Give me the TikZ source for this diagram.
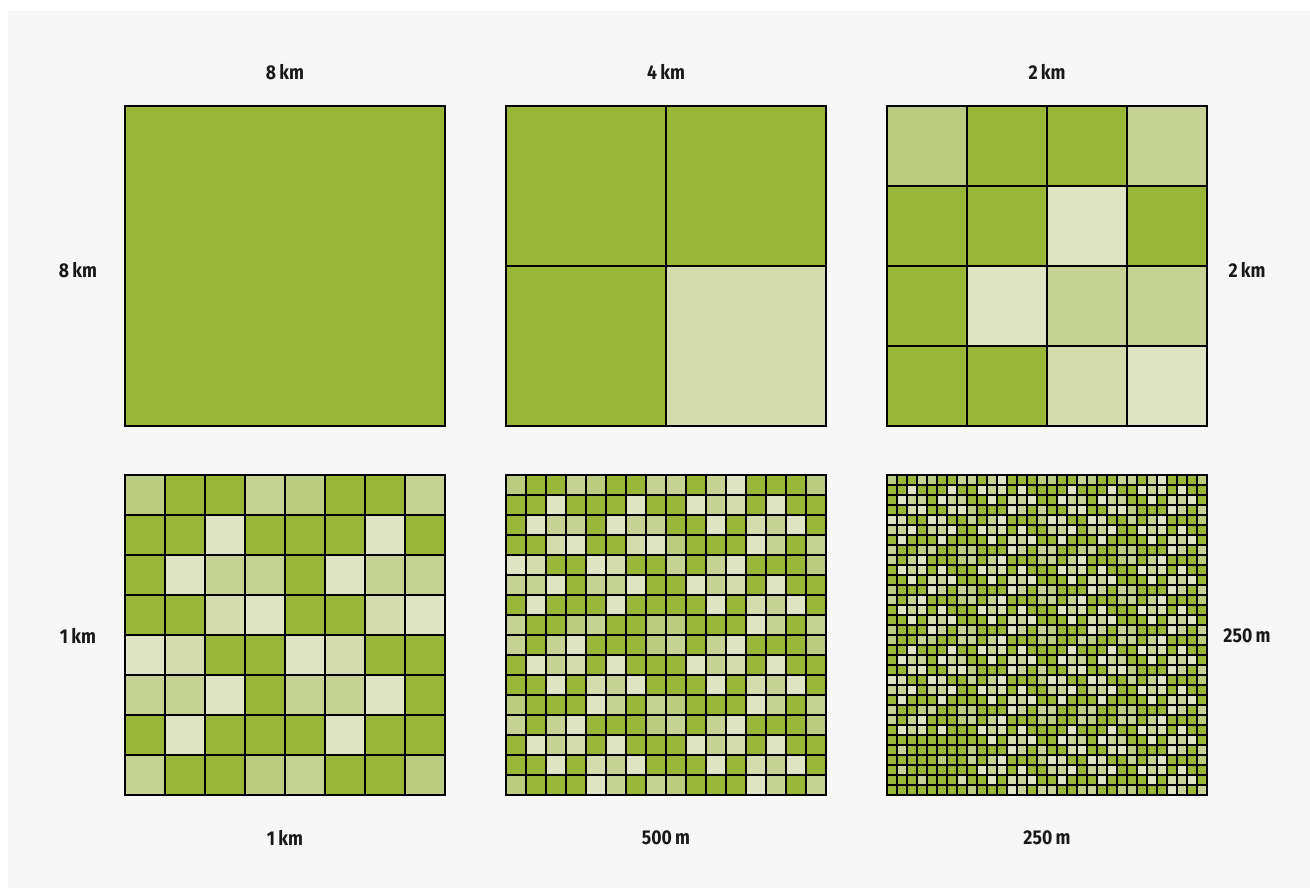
\documentclass[tikz,border=0pt]{standalone}
\usepackage{fontspec}
\setmainfont{Fira Sans}[FakeStretch=0.88]
\definecolor{c0}{HTML}{9AB638}
\definecolor{c1}{HTML}{BBCB80}
\definecolor{c2}{HTML}{C6D294}
\definecolor{c3}{HTML}{D4DCAF}
\definecolor{c4}{HTML}{DFE4C4}
\definecolor{bggray}{HTML}{F7F7F7}
\newcount\gcol
\makeatletter
\newcommand\drawrow[5]{%
  \gcol=0
  \@tfor\gd:=#5\do{%
    \fill[c\gd] ({#1+\the\gcol*#3},{#2+#4*#3}) rectangle ++(#3,#3);%
    \advance\gcol by 1 }}
\makeatother
\newcommand\drawgrid[5]{%
  \foreach \rw [count=\ri from 0] in {#5} {%
    \edef\tmp{\noexpand\drawrow{#1}{#2}{#3}{\ri}{\rw}}\tmp}
  \foreach \i in {0,...,#4} {%
    \draw[gl] ({#1+\i*#3},#2) -- ({#1+\i*#3},{#2+#4*#3});
    \draw[gl] (#1,{#2+\i*#3}) -- ({#1+#4*#3},{#2+\i*#3});}}
\def\patA{1002100220240001}
\def\patB{0040004004230400}
\def\patC{0422042200403240}
\def\patD{0034003410004202}
\def\patE{4300430020240001}
\def\patF{2240224004230400}
\def\patG{0400040000403240}
\def\patH{2001200110004202}
\def\patI{2024000120240001}
\def\patJ{0423040004230400}
\def\patK{0040324000403240}
\def\patL{1000420210004202}
\begin{document}
\begin{tikzpicture}[x=1pt,y=-1pt,
  gl/.style={line width=1.4pt, black, line cap=rect},
  lbl/.style={font=\fontsize{20}{23}\selectfont\bfseries, inner sep=0pt, text=black!90}]
\useasboundingbox (0,0) rectangle (1310,888);
\fill[white] (0,0) rectangle (1310,888);
\fill[bggray] (8,11) rectangle (1310,888);
% 8 km
\drawgrid{125}{106}{320}{1}{0}
% 4 km
\drawgrid{506}{106}{160}{2}{00,03}
% 2 km
\drawgrid{887}{106}{80}{4}{1002,0040,0422,0034}
% 1 km
\drawgrid{125}{475}{40}{8}{10021002,00400040,04220422,00340034,43004300,22402240,04000400,20012001}
% 500 m
\drawgrid{506}{475}{20}{16}{\patA,\patB,\patC,\patD,\patE,\patF,\patG,\patH,\patI,\patJ,\patK,\patL,\patI,\patJ,\patK,\patL}
% 250 m
\drawgrid{887}{475}{10}{32}{\patA\patA,\patB\patB,\patC\patC,\patD\patD,\patE\patE,\patF\patF,\patG\patG,\patH\patH,\patI\patI,\patJ\patJ,\patK\patK,\patL\patL,\patI\patI,\patJ\patJ,\patK\patK,\patL\patL,\patA\patA,\patB\patB,\patC\patC,\patD\patD,\patE\patE,\patF\patF,\patG\patG,\patH\patH,2024000120240001\patA,0423040004230400\patB,0000000000403240\patC,0200000010004202\patD,0000010020240001\patE,0200000004230400\patF,0002000300403240\patG,0000000010004202\patH}
% labels
\node[lbl] (t1) at (285,72) {8\,km};
\node[lbl] (t2) at (666,72) {4\,km};
\node[lbl] (t3) at (1047,72) {2\,km};
\node[lbl] (l1) at (78,270) {8\,km};
\node[lbl] (r1) at (1247,270) {2\,km};
\node[lbl] (l2) at (78,636) {1\,km};
\node[lbl] (r2) at (1247,636) {250\,m};
\node[lbl] (b1) at (285,838) {1\,km};
\node[lbl] (b2) at (666,838) {500\,m};
\node[lbl] (b3) at (1047,838) {250\,m};
\end{tikzpicture}
\end{document}
